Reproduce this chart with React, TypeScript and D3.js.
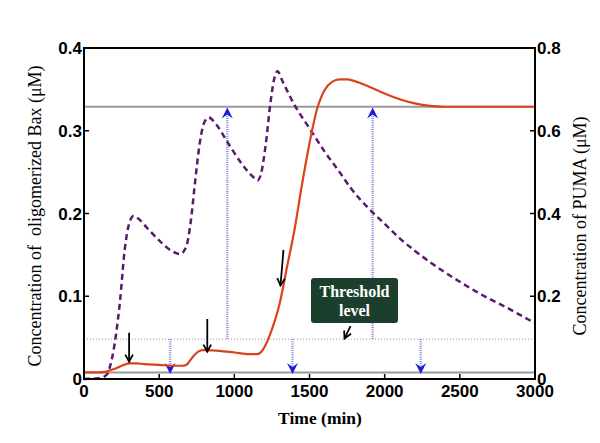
import React from 'react';
import * as d3 from 'd3';

const xTicks = [0, 500, 1000, 1500, 2000, 2500, 3000];
const leftTicks = [0, 0.1, 0.2, 0.3, 0.4];
const rightTicks = [0, 0.2, 0.4, 0.6, 0.8];

// Oligomerized Bax (left axis, µM)
const baxTime = [0, 100, 150, 200, 250, 300, 350, 400, 500, 600, 650, 680, 700, 730, 760, 790, 820, 900, 1000, 1100, 1150, 1180, 1210, 1250, 1300, 1350, 1400, 1450, 1500, 1550, 1600, 1650, 1700, 1750, 1800, 1900, 2000, 2100, 2200, 2300, 2400, 2500, 3000];
const baxValues = [0.008, 0.008, 0.009, 0.012, 0.016, 0.019, 0.019, 0.018, 0.017, 0.016, 0.016, 0.017, 0.021, 0.028, 0.033, 0.035, 0.035, 0.034, 0.032, 0.030, 0.030, 0.033, 0.042, 0.06, 0.09, 0.135, 0.18, 0.235, 0.285, 0.326, 0.349, 0.359, 0.362, 0.362, 0.360, 0.353, 0.345, 0.338, 0.333, 0.330, 0.329, 0.329, 0.329];

// PUMA (right axis, µM)
const pumaTime = [0, 100, 150, 180, 210, 240, 270, 300, 330, 370, 420, 500, 580, 640, 680, 710, 740, 770, 800, 830, 880, 950, 1050, 1120, 1155, 1180, 1210, 1240, 1265, 1287, 1320, 1393, 1507, 1600, 1700, 1773, 1900, 2000, 2100, 2200, 2300, 2400, 2500, 2600, 2700, 2800, 2900, 3000];
const pumaValues = [0, 0.002, 0.01, 0.04, 0.1, 0.19, 0.31, 0.375, 0.394, 0.385, 0.365, 0.335, 0.31, 0.302, 0.32, 0.38, 0.48, 0.57, 0.62, 0.632, 0.615, 0.575, 0.52, 0.49, 0.48, 0.5, 0.57, 0.667, 0.725, 0.744, 0.72, 0.667, 0.602, 0.55, 0.5, 0.462, 0.41, 0.375, 0.34, 0.31, 0.283, 0.258, 0.235, 0.213, 0.193, 0.175, 0.155, 0.135];

const steadyLevels = [0.329, 0.008];
const thresholdLevel = 0.0483;

const blackArrowStart: [number, number][] = [[300, 0.056], [820, 0.0725], [1327, 0.156], [1773, 0.064]];
const blackArrowEnd: [number, number][] = [[300, 0.021], [820, 0.033], [1307, 0.113], [1733, 0.049]];

const blueDownTimes = [573, 1387, 2240];
const blueUpTimes = [953, 1920];
const blueUpTop = 0.328;
const blueDownBottom = 0.006;

const W = 600, H = 443;
const L = 84, R = 535, T = 48, B = 379;

export default function App() {
  const x = d3.scaleLinear().domain([0, 3000]).range([L, R]);
  const yL = d3.scaleLinear().domain([0, 0.4]).range([B, T]);
  const yR = d3.scaleLinear().domain([0, 0.8]).range([B, T]);

  const baxLine = d3.line<number>().x((_, i) => x(baxTime[i])).y(d => yL(d)).curve(d3.curveMonotoneX);
  const pumaLine = d3.line<number>().x((_, i) => x(pumaTime[i])).y(d => yR(d)).curve(d3.curveMonotoneX);

  const fmt = (v: number) => (v === 0 ? '0' : d3.format('.1f')(v));
  const tickFont = { fontFamily: 'Liberation Sans, Arial, sans-serif', fontSize: 17, fontWeight: 'bold' as const };
  const serif = 'Liberation Serif, Times New Roman, serif';

  const blueHeadDown = (cx: number, cy: number) => `M${cx},${cy} L${cx - 5.5},${cy - 11} L${cx},${cy - 7} L${cx + 5.5},${cy - 11} Z`;
  const blueHeadUp = (cx: number, cy: number) => `M${cx},${cy} L${cx - 5.5},${cy + 11} L${cx},${cy + 7} L${cx + 5.5},${cy + 11} Z`;

  return (
    <svg width={W} height={H} style={{ position: 'absolute', left: 0, top: 0, background: '#fff' }}>
      {/* steady-state gray lines */}
      {steadyLevels.map((v, i) => (
        <line key={i} x1={L} x2={R} y1={yL(v)} y2={yL(v)} stroke="#9a9a9a" strokeWidth={2} />
      ))}
      {/* threshold dotted line */}
      <line x1={L} x2={R} y1={yL(thresholdLevel)} y2={yL(thresholdLevel)} stroke="#aaaaaa" strokeWidth={1.2} strokeDasharray="1,2" />

      {/* blue dotted arrows */}
      {blueDownTimes.map((t, i) => (
        <g key={'d' + i}>
          <line x1={x(t)} x2={x(t)} y1={yL(thresholdLevel)} y2={yL(blueDownBottom) - 7} stroke="#8f8fe0" strokeWidth={2.6} strokeDasharray="1,1.2" />
          <path d={blueHeadDown(x(t), yL(blueDownBottom))} fill="#1c1ce0" />
        </g>
      ))}
      {blueUpTimes.map((t, i) => (
        <g key={'u' + i}>
          <line x1={x(t)} x2={x(t)} y1={yL(thresholdLevel)} y2={yL(blueUpTop) + 7} stroke="#8f8fe0" strokeWidth={2.6} strokeDasharray="1,1.2" />
          <path d={blueHeadUp(x(t), yL(blueUpTop))} fill="#1c1ce0" />
        </g>
      ))}

      {/* curves */}
      <path d={pumaLine(pumaValues) || ''} fill="none" stroke="#5a1a6e" strokeWidth={2.5} strokeDasharray="6,4" />
      <path d={baxLine(baxValues) || ''} fill="none" stroke="#d9431b" strokeWidth={2.2} />

      {/* black arrows */}
      {blackArrowStart.map((s, i) => {
        const e = blackArrowEnd[i];
        const x1 = x(s[0]), y1 = yL(s[1]), x2 = x(e[0]), y2 = yL(e[1]);
        const ang = Math.atan2(y2 - y1, x2 - x1);
        const hl = 8, hw = 0.5;
        const a1 = [x2 - hl * Math.cos(ang - hw), y2 - hl * Math.sin(ang - hw)];
        const a2 = [x2 - hl * Math.cos(ang + hw), y2 - hl * Math.sin(ang + hw)];
        return (
          <g key={'b' + i}>
            <line x1={x1} y1={y1} x2={x2} y2={y2} stroke="#000" strokeWidth={1.8} />
            <path d={`M${a1[0]},${a1[1]} L${x2},${y2} L${a2[0]},${a2[1]}`} fill="none" stroke="#000" strokeWidth={1.8} />
          </g>
        );
      })}

      {/* threshold label */}
      <rect x={311} y={278} width={87} height={45} rx={3} fill="#1b3f2c" />
      <text x={354.5} y={297} textAnchor="middle" fill="#fff" fontFamily={serif} fontWeight="bold" fontSize={16}>Threshold</text>
      <text x={354.5} y={316} textAnchor="middle" fill="#fff" fontFamily={serif} fontWeight="bold" fontSize={16}>level</text>

      {/* frame */}
      <rect x={L} y={T} width={R - L} height={B - T} fill="none" stroke="#000" strokeWidth={2} />

      {/* x ticks */}
      {xTicks.map(t => (
        <g key={'x' + t}>
          <line x1={x(t)} x2={x(t)} y1={B} y2={B - 5} stroke="#000" strokeWidth={1.5} />
          <text x={x(t)} y={397} textAnchor="middle" {...tickFont}>{t}</text>
        </g>
      ))}
      {/* left ticks */}
      {leftTicks.map(v => (
        <g key={'l' + v}>
          <line x1={L} x2={L + 5} y1={yL(v)} y2={yL(v)} stroke="#000" strokeWidth={1.5} />
          <text x={L - 2} y={yL(v) + 6} textAnchor="end" {...tickFont}>{fmt(v)}</text>
        </g>
      ))}
      {/* right ticks */}
      {rightTicks.map(v => (
        <g key={'r' + v}>
          <line x1={R} x2={R - 5} y1={yR(v)} y2={yR(v)} stroke="#000" strokeWidth={1.5} />
          <text x={R + 2} y={yR(v) + 6} textAnchor="start" {...tickFont}>{fmt(v)}</text>
        </g>
      ))}

      {/* axis titles */}
      <text x={320} y={424} textAnchor="middle" fontFamily={serif} fontWeight="bold" fontSize={17.5}>Time (min)</text>
      <text transform="translate(41,216) rotate(-90)" textAnchor="middle" fontFamily={serif} fontSize={18} style={{ whiteSpace: 'pre' }}>Concentration of  oligomerized Bax (μM)</text>
      <text transform="translate(586,226) rotate(-90)" textAnchor="middle" fontFamily={serif} fontSize={18}>Concentration of PUMA (μM)</text>
    </svg>
  );
}
